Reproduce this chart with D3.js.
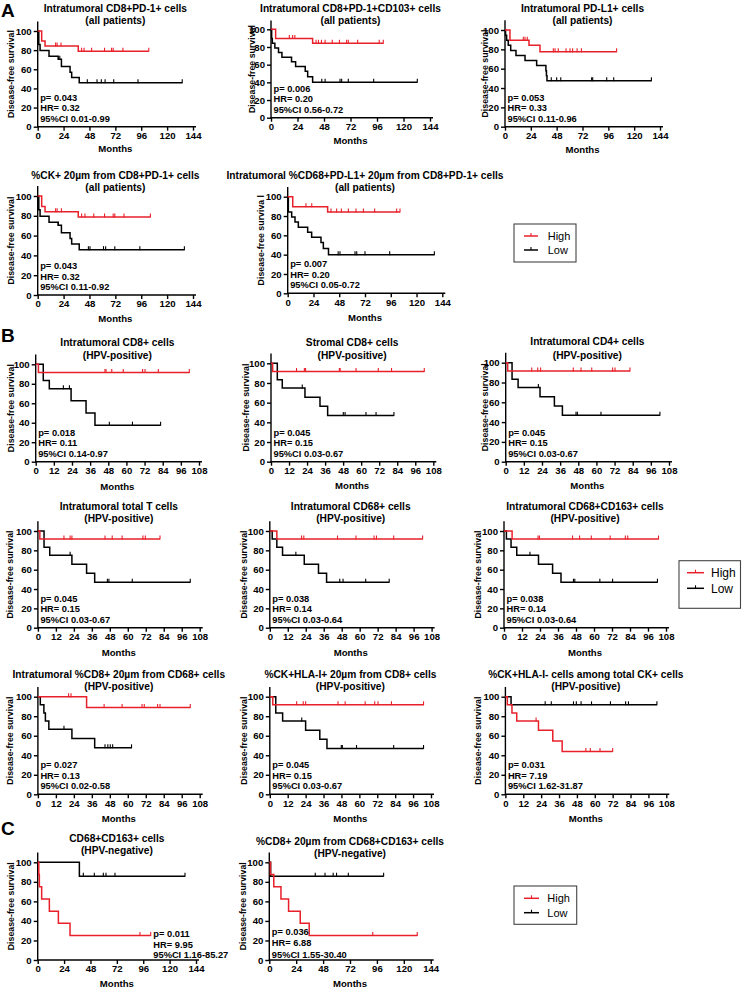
<!DOCTYPE html>
<html><head><meta charset="utf-8">
<script src="https://cdn.jsdelivr.net/npm/d3@7"></script>
<style>
body{margin:0;background:#fff}
svg{display:block}
text{font-family:"Liberation Sans",Arial,Helvetica,sans-serif}
</style>
</head><body>
<svg id="c" width="742" height="988"></svg>
<script>
// ---------- tick labels ----------
const ticks144 = [0, 24, 48, 72, 96, 120, 144];
const ticks108 = [0, 12, 24, 36, 48, 60, 72, 84, 96, 108];
const yTicks = [0, 20, 40, 60, 80, 100];
const legendLabels = ["High", "Low"];

// ---------- titles / stats ----------
const a1Title = ["Intratumoral CD8+PD-1+ cells", "(all patients)"];
const a2Title = ["Intratumoral CD8+PD-1+CD103+ cells", "(all patients)"];
const a3Title = ["Intratumoral PD-L1+ cells", "(all patients)"];
const a4Title = ["%CK+ 20\u00b5m from CD8+PD-1+ cells", "(all patients)"];
const a5Title = ["Intratumoral %CD68+PD-L1+ 20\u00b5m from CD8+PD-1+ cells", "(all patients)"];
const b1Title = ["Intratumoral CD8+ cells", "(HPV-positive)"];
const b2Title = ["Stromal CD8+ cells", "(HPV-positive)"];
const b3Title = ["Intratumoral CD4+ cells", "(HPV-positive)"];
const b4Title = ["Intratumoral total T cells", "(HPV-positive)"];
const b5Title = ["Intratumoral CD68+ cells", "(HPV-positive)"];
const b6Title = ["Intratumoral CD68+CD163+ cells", "(HPV-positive)"];
const b7Title = ["Intratumoral %CD8+ 20\u00b5m from CD68+ cells", "(HPV-positive)"];
const b8Title = ["%CK+HLA-I+ 20\u00b5m from CD8+ cells", "(HPV-positive)"];
const b9Title = ["%CK+HLA-I- cells among total CK+ cells", "(HPV-positive)"];
const c1Title = ["CD68+CD163+ cells", "(HPV-negative)"];
const c2Title = ["%CD8+ 20\u00b5m from CD68+CD163+ cells", "(HPV-negative)"];

const a1Stats = ["p= 0.043", "HR= 0.32", "95%CI 0.01-0.99"];
const a2Stats = ["p= 0.006", "HR= 0.20", "95%CI 0.56-0.72"];
const a3Stats = ["p= 0.053", "HR= 0.33", "95%CI 0.11-0.96"];
const a4Stats = ["p= 0.043", "HR= 0.32", "95%CI 0.11-0.92"];
const a5Stats = ["p= 0.007", "HR= 0.20", "95%CI 0.05-0.72"];
const b1Stats = ["p= 0.018", "HR= 0.11", "95%CI 0.14-0.97"];
const b2Stats = ["p= 0.045", "HR= 0.15", "95%CI 0.03-0.67"];
const b3Stats = ["p= 0.045", "HR= 0.15", "95%CI 0.03-0.67"];
const b4Stats = ["p= 0.045", "HR= 0.15", "95%CI 0.03-0.67"];
const b5Stats = ["p= 0.038", "HR= 0.14", "95%CI 0.03-0.64"];
const b6Stats = ["p= 0.038", "HR= 0.14", "95%CI 0.03-0.64"];
const b7Stats = ["p= 0.027", "HR= 0.13", "95%CI 0.02-0.58"];
const b8Stats = ["p= 0.045", "HR= 0.15", "95%CI 0.03-0.67"];
const b9Stats = ["p= 0.031", "HR= 7.19", "95%CI 1.62-31.87"];
const c1Stats = ["p= 0.011", "HR= 9.95", "95%CI 1.16-85.27"];
const c2Stats = ["p= 0.036", "HR= 6.88", "95%CI 1.55-30.40"];

// ---------- survival data: drops [months, survival%], censored months ----------
const a1HighDrops = [[3.7, 89.5], [6.8, 84.2], [37.6, 78.9]];
const a1HighCens = [16.6, 18, 21.6, 40.7, 43, 50, 62, 68.5, 70, 79, 103];
const a1LowDrops = [[1, 86], [2.2, 79.5], [10.5, 73.5], [19, 70.5], [22, 63], [30, 57], [31.5, 51.5], [38.5, 45.8]];
const a1LowCens = [20.5, 46, 55, 59, 62.5, 70.5, 93, 134];

const a2HighDrops = [[4.2, 89.5], [37.7, 84.2]];
const a2HighCens = [16.6, 19.6, 21.6, 40.8, 43, 45.7, 49, 55.5, 62, 68.5, 70, 78.5, 98, 101.7];
const a2LowDrops = [[0.6, 89.5], [1.2, 84.2], [3.5, 78.9], [6.8, 73.7], [9.9, 68.4], [18.6, 63.2], [22.3, 57.9], [31, 52.6], [33.2, 46.3], [37.7, 40]];
const a2LowCens = [46, 49, 62.5, 64, 70, 93, 132.5];

const a3HighDrops = [[4.6, 89.5], [22.3, 84.2], [32.5, 77.5]];
const a3HighCens = [17, 18.6, 20.7, 44.9, 46.5, 49.5, 56.7, 60.4, 62.8, 67, 71, 103.7];
const a3LowDrops = [[0.5, 94.7], [1.5, 89.5], [3, 84.2], [5.3, 78.9], [10.2, 73.7], [18.6, 68.4], [29.4, 63.2], [38, 57.9], [38.5, 52.6], [39, 47.4]];
const a3LowCens = [43, 48, 51.8, 80.5, 81.5, 94.5, 101, 136];

const a4HighDrops = [[3.7, 89.5], [6.8, 84.2], [37.6, 78.9]];
const a4HighCens = [16.6, 18, 22, 40.7, 43.8, 52, 62, 70, 71.5, 80, 104.5];
const a4LowDrops = [[1, 86], [2.2, 79.5], [10.5, 73.5], [19, 70.5], [22, 63], [30, 57], [31.5, 51.5], [38.5, 45.8]];
const a4LowCens = [19, 47, 48.5, 61, 63, 71.5, 94.7, 136];

const a5HighDrops = [[4.7, 89.5], [37.2, 84.2]];
const a5HighCens = [17, 22.4, 40.3, 45.6, 50, 56.5, 63.6, 70.5, 81, 101.5, 104.6];
const a5LowDrops = [[0.6, 84.2], [3.7, 78.9], [6.8, 73.7], [9.9, 68.4], [18.6, 63.2], [22.3, 57.9], [31, 52.6], [33.2, 46.3], [38, 40]];
const a5LowCens = [47, 48.7, 62.7, 64.3, 72, 95, 136.6];

const b1HighDrops = [[1.8, 91.7]];
const b1HighCens = [45.8, 46.5, 50.3, 57.9, 70.7, 72.3, 81.1, 101.6];
const b1LowDrops = [[5, 83.3], [9, 75], [23.4, 62.5], [33.3, 50], [39.2, 37.5]];
const b1LowCens = [18.3, 22.3, 48.7, 64, 82.6];

const b2HighDrops = [[1.1, 91.7]];
const b2HighCens = [17, 22.2, 23, 45.5, 46, 56.6, 71.4, 80.2, 102];
const b2LowDrops = [[4.2, 83.3], [7.5, 75], [22.6, 65.6], [32.6, 56.3], [37.7, 46.9]];
const b2LowCens = [20.8, 48.1, 49.3, 63.2, 69.9, 81.8];

const b3HighDrops = [[1.3, 91.7]];
const b3HighCens = [17.2, 21.2, 23.1, 44.7, 49.8, 56.9, 70.7, 72.3, 82.2];
const b3LowDrops = [[4.2, 83.3], [8.2, 75], [22.7, 65.6], [32.2, 56.3], [37.5, 46.9]];
const b3LowCens = [21.6, 46.5, 47.4, 63, 102];

const b4HighDrops = [[1.3, 91.7]];
const b4HighCens = [17.4, 21.5, 22.7, 44.8, 49.6, 56.2, 70.1, 71.7, 81.5];
const b4LowDrops = [[4.1, 83.3], [7.9, 75], [22.7, 65.6], [32.5, 56.3], [37.9, 46.9]];
const b4LowCens = [21.5, 46.4, 47.4, 63, 101.7];

const b5HighDrops = [[4.7, 91.7]];
const b5HighCens = [21.2, 22.7, 45.2, 57.5, 69.6, 71.2, 82.7, 102];
const b5LowDrops = [[1.6, 91.7], [4.7, 83.3], [8.5, 75], [23, 65.6], [32.5, 56.3], [37.9, 46.9]];
const b5LowCens = [17.4, 46.7, 48.9, 64, 79.7];

const b6HighDrops = [[5.4, 91.7]];
const b6HighCens = [22.7, 23.6, 45.7, 50.4, 58.2, 70.8, 80.9, 82.5, 103];
const b6LowDrops = [[1.6, 91.7], [4.7, 83.3], [8.5, 75], [23, 65.6], [32.4, 56.3], [38, 46.9]];
const b6LowCens = [17.3, 46.3, 47.2, 63.9, 72.4, 102.3];

const b7HighDrops = [[32.5, 88.9]];
const b7HighCens = [20.5, 22.1, 44.2, 56.2, 69.5, 71, 79.9, 81.5, 101.7];
const b7LowDrops = [[1.6, 91.7], [4, 83.3], [5, 75], [7.3, 66.7], [22.7, 57.1], [37.9, 47.6]];
const b7LowCens = [17.4, 44.8, 46.7, 48.3, 49.9, 62.5];

const b8HighDrops = [[2, 91.7]];
const b8HighCens = [18, 22.4, 24, 45.7, 50.5, 63.9, 70.3, 72.5, 81.5, 103];
const b8LowDrops = [[4, 83.3], [8.6, 75], [24, 65.6], [33.5, 56.3], [38.3, 46.9]];
const b8LowCens = [21.4, 47.9, 48.6, 58.1, 83, 103];

const b9HighDrops = [[1.3, 91.7], [4.4, 83.3], [7.6, 75], [22.2, 65.6], [31.8, 54.7], [38.1, 43.8]];
const b9HighCens = [20.6, 54, 57, 63.5, 72];
const b9LowDrops = [[3.8, 91.7]];
const b9LowCens = [26.7, 30.8, 45.7, 47.6, 50.8, 57.8, 70.5, 80.7, 82.6, 101.7];

const c1HighDrops = [[1, 87.5], [1.5, 75], [3.6, 62.5], [10.6, 50], [18.8, 37.5], [29.4, 25]];
const c1HighCens = [93, 102.8];
const c1LowDrops = [[37.9, 85.7]];
const c1LowCens = [41.5, 51.5, 59.7, 62.1, 70.3, 134];

const c2HighDrops = [[1, 87.5], [4, 75], [10.4, 62.5], [17.2, 50], [27.6, 37.5], [35.6, 25]];
const c2HighCens = [92.3, 132];
const c2LowDrops = [[1.2, 85.7]];
const c2LowCens = [41, 49.7, 57, 60, 70.5, 102];

// ---------- layout ----------
const RED = "#e8202a";
const FONT_BOLD = 700;
const panels = [
  {x0:37.7, x1:193, y100:31, y0:126.7, ticks:ticks144, tY:[11.5,24], mY:151.5, lX:10.5, title:a1Title, stats:a1Stats, hd:a1HighDrops, hc:a1HighCens, ld:a1LowDrops, lc:a1LowCens},
  {x0:271, x1:430, y100:29.3, y0:117.7, ticks:ticks144, tY:[11.5,24], mY:143.5, lX:252, title:a2Title, stats:a2Stats, hd:a2HighDrops, hc:a2HighCens, ld:a2LowDrops, lc:a2LowCens},
  {x0:505, x1:660, y100:30, y0:126.7, ticks:ticks144, tY:[11.5,24], mY:152.5, lX:485, title:a3Title, stats:a3Stats, hd:a3HighDrops, hc:a3HighCens, ld:a3LowDrops, lc:a3LowCens},
  {x0:37.7, x1:193, y100:196, y0:295, ticks:ticks144, tY:[178.5,190.5], mY:321.5, lX:10.5, title:a4Title, stats:a4Stats, hd:a4HighDrops, hc:a4HighCens, ld:a4LowDrops, lc:a4LowCens},
  {x0:287.7, x1:442.3, y100:196.7, y0:293.3, ticks:ticks144, tY:[178.5,190.5], mY:320.5, lX:261, ylab:"Disease-free surviva l", title:a5Title, stats:a5Stats, hd:a5HighDrops, hc:a5HighCens, ld:a5LowDrops, lc:a5LowCens},
  {x0:35.7, x1:199, y100:364.3, y0:461.7, ticks:ticks108, tY:[345.8,358.5], mY:489.5, lX:10.5, title:b1Title, stats:b1Stats, hd:b1HighDrops, hc:b1HighCens, ld:b1LowDrops, lc:b1LowCens},
  {x0:271, x1:433.3, y100:363.3, y0:461.7, ticks:ticks108, tY:[345.8,359], mY:489, lX:246, title:b2Title, stats:b2Stats, hd:b2HighDrops, hc:b2HighCens, ld:b2LowDrops, lc:b2LowCens},
  {x0:505.7, x1:669, y100:362.7, y0:461.7, ticks:ticks108, tY:[345.2,358.5], mY:489, lX:485, title:b3Title, stats:b3Stats, hd:b3HighDrops, hc:b3HighCens, ld:b3LowDrops, lc:b3LowCens},
  {x0:37.9, x1:199.7, y100:531, y0:627.7, ticks:ticks108, tY:[509.5,521.8], mY:656, lX:10, title:b4Title, stats:b4Stats, hd:b4HighDrops, hc:b4HighCens, ld:b4LowDrops, lc:b4LowCens},
  {x0:269.8, x1:431.6, y100:531, y0:627.7, ticks:ticks108, tY:[509.5,521.8], mY:656, lX:244, title:b5Title, stats:b5Stats, hd:b5HighDrops, hc:b5HighCens, ld:b5LowDrops, lc:b5LowCens},
  {x0:504, x1:666, y100:531, y0:627.7, ticks:ticks108, tY:[509.5,521.8], mY:656, lX:478, title:b6Title, stats:b6Stats, hd:b6HighDrops, hc:b6HighCens, ld:b6LowDrops, lc:b6LowCens},
  {x0:37.9, x1:199.7, y100:696.7, y0:794.3, ticks:ticks108, tY:[677.8,690.2], mY:821.8, lX:10, title:b7Title, stats:b7Stats, hd:b7HighDrops, hc:b7HighCens, ld:b7LowDrops, lc:b7LowCens},
  {x0:269.8, x1:431, y100:696.7, y0:794.3, ticks:ticks108, tY:[677.8,690.2], mY:821.8, lX:244, title:b8Title, stats:b8Stats, hd:b8HighDrops, hc:b8HighCens, ld:b8LowDrops, lc:b8LowCens},
  {x0:505.4, x1:666.3, y100:696.7, y0:794.3, ticks:ticks108, tY:[677.8,690.2], mY:821.8, lX:478, title:b9Title, stats:b9Stats, hd:b9HighDrops, hc:b9HighCens, ld:b9LowDrops, lc:b9LowCens},
  {x0:37.7, x1:196, y100:862.3, y0:960, ticks:ticks144, tY:[841.8,853.5], mY:987, lX:10.7, title:c1Title, stats:c1Stats, sX:153.3, sY:[937,947.5,958], hd:c1HighDrops, hc:c1HighCens, ld:c1LowDrops, lc:c1LowCens},
  {x0:269.3, x1:430.7, y100:862.3, y0:960, ticks:ticks144, tY:[845.2,856.8], mY:987, lX:243.3, title:c2Title, stats:c2Stats, sY:[934.5,946,957.5], hd:c2HighDrops, hc:c2HighCens, ld:c2LowDrops, lc:c2LowCens}
];

const svg = d3.select("#c");

function survAt(drops, t) {
  let s = 100;
  for (const d of drops) if (d[0] <= t) s = d[1];
  return s;
}

function drawCurve(g, x, y, drops, cens, color) {
  const end = Math.max(d3.max(cens) || 0, drops[drops.length - 1][0]);
  const pts = [[0, 100], ...drops, [end, drops[drops.length - 1][1]]];
  const line = d3.line().x(d => x(d[0])).y(d => y(d[1])).curve(d3.curveStepAfter);
  g.append("path").attr("d", line(pts)).attr("fill", "none")
    .attr("stroke", color).attr("stroke-width", 1.5);
  g.selectAll(null).data(cens).enter().append("line")
    .attr("x1", d => x(d)).attr("x2", d => x(d))
    .attr("y1", d => y(survAt(drops, d)) + 0.5)
    .attr("y2", d => y(survAt(drops, d)) - 3.5)
    .attr("stroke", color).attr("stroke-width", 1.1);
}

function drawPanel(p) {
  const g = svg.append("g");
  const xMax = p.ticks[p.ticks.length - 1];
  const x = d3.scaleLinear().domain([0, xMax]).range([p.x0, p.x1]);
  const y = d3.scaleLinear().domain([0, 100]).range([p.y0, p.y100]);

  const xa = g.append("g").attr("transform", `translate(0,${p.y0})`)
    .call(d3.axisBottom(x).tickValues(p.ticks).tickSize(4).tickPadding(1.5).tickSizeOuter(0));
  const ya = g.append("g").attr("transform", `translate(${p.x0},0)`)
    .call(d3.axisLeft(y).tickValues(yTicks).tickSize(4).tickPadding(2).tickSizeOuter(0));
  [xa, ya].forEach(a => {
    a.select(".domain").remove();
    a.selectAll("line").attr("stroke", "#000").attr("stroke-width", 1.4);
    a.selectAll("text").attr("font-size", 9.6).attr("font-weight", FONT_BOLD)
      .attr("fill", "#000").attr("font-family", '"Liberation Sans",Arial,sans-serif');
  });
  g.append("line").attr("x1", p.x0).attr("x2", p.x0).attr("y1", y(0) + 0.7).attr("y2", y(110))
    .attr("stroke", "#000").attr("stroke-width", 1.4);
  g.append("line").attr("x1", p.x0).attr("x2", p.x1 + 3).attr("y1", y(0)).attr("y2", y(0))
    .attr("stroke", "#000").attr("stroke-width", 1.4);

  // curves
  drawCurve(g, x, y, p.ld, p.lc, "#000");
  drawCurve(g, x, y, p.hd, p.hc, RED);

  // titles
  const cx = (p.x0 + p.x1) / 2;
  p.title.forEach((t, i) => {
    g.append("text").attr("x", cx).attr("y", p.tY[i]).attr("text-anchor", "middle")
      .attr("font-size", 10.2).attr("font-weight", FONT_BOLD).text(t);
  });
  g.append("text").attr("x", cx).attr("y", p.mY).attr("text-anchor", "middle")
    .attr("font-size", 9.6).attr("font-weight", FONT_BOLD).text("Months");
  const ly = (y(0) + y(110)) / 2;
  g.append("text").attr("transform", `translate(${p.lX + 3},${ly}) rotate(-90)`)
    .attr("text-anchor", "middle").attr("font-size", 8.8).attr("font-weight", FONT_BOLD)
    .text(p.ylab || "Disease-free survival");

  const sx = p.sX !== undefined ? p.sX : p.x0 + 2.5;
  const sy = p.sY || [p.y0 - 26, p.y0 - 15.5, p.y0 - 5];
  p.stats.forEach((t, i) => {
    g.append("text").attr("x", sx).attr("y", sy[i]).attr("font-size", 9.3)
      .attr("font-weight", FONT_BOLD).text(t);
  });
}

panels.forEach(drawPanel);

// legends
const legends = [
  {x:514, y:224, w:62, h:38, ly:[236, 250], lx:[524, 538], tx:547.7, fs:11},
  {x:679, y:560.7, w:61.5, h:47.6, ly:[572.7, 588.3], lx:[687, 704], tx:711, fs:12},
  {x:514, y:886, w:62.7, h:38.3, ly:[898.3, 912.7], lx:[524, 539], tx:547.3, fs:11}
];
legends.forEach(L => {
  const g = svg.append("g");
  g.append("rect").attr("x", L.x).attr("y", L.y).attr("width", L.w).attr("height", L.h)
    .attr("fill", "#fff").attr("stroke", "#444").attr("stroke-width", 1.1);
  [RED, "#000"].forEach((c, i) => {
    g.append("line").attr("x1", L.lx[0]).attr("x2", L.lx[1]).attr("y1", L.ly[i]).attr("y2", L.ly[i])
      .attr("stroke", c).attr("stroke-width", 1.5);
    const mx = (L.lx[0] + L.lx[1]) / 2;
    g.append("line").attr("x1", mx).attr("x2", mx).attr("y1", L.ly[i]).attr("y2", L.ly[i] - 3)
      .attr("stroke", c).attr("stroke-width", 1.1);
    g.append("text").attr("x", L.tx).attr("y", L.ly[i] + L.fs * 0.36).attr("font-size", L.fs)
      .text(legendLabels[i]);
  });
});

// panel letters
[["A", 1, 17], ["B", 1, 341.7], ["C", 1, 835]].forEach(([t, x, y]) => {
  svg.append("text").attr("x", x).attr("y", y).attr("font-size", 19)
    .attr("font-weight", FONT_BOLD).text(t);
});
</script>
</body></html>
